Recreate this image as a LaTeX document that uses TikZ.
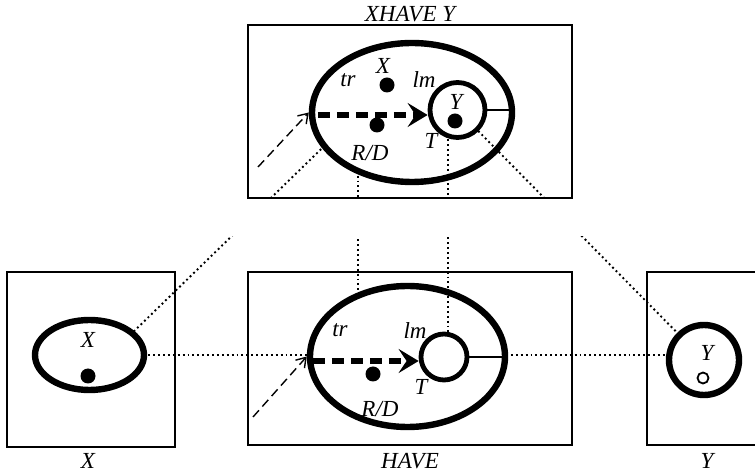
\documentclass[tikz,border=0pt]{standalone}
\usepackage{fontspec}
\setmainfont{Liberation Serif}
\usetikzlibrary{shapes.geometric, arrows.meta}

\tikzset{
  frame/.style={line width=0.9pt},
  ring/.style={ellipse, draw, fill=white, line width=3.2pt, inner sep=0pt},
  core/.style={circle, draw, fill=white, line width=2.4pt, inner sep=0pt},
  spot/.style={circle, fill, inner sep=0pt, minimum size=7.5pt},
  hole/.style={circle, draw, line width=0.9pt, inner sep=0pt, minimum size=5.5pt},
  lbl/.style={font=\fontsize{11.5}{13}\selectfont\itshape, inner sep=0pt},
  link/.style={line width=0.95pt, dash pattern=on 0.95pt off 1.5pt},
  flow/.style={line width=3pt, dash pattern=on 6pt off 3.5pt,
    -{Stealth[length=10pt, width=12pt, inset=4pt]}},
  entry/.style={line width=0.7pt, dash pattern=on 4.5pt off 2.5pt,
    -{Straight Barb[length=4.5pt, width=6pt]}},
}

\begin{document}
\begin{tikzpicture}[x=0.5pt, y=-0.5pt, >=stealth]
  \useasboundingbox (0,0) rectangle (755,475);

  % Centres and link ends
  \coordinate (top) at (412,112.5);
  \coordinate (topin) at (457.5,110);
  \coordinate (have) at (407.5,356.5);
  \coordinate (havein) at (444,357);
  \coordinate (xc) at (89.5,355);
  \coordinate (yc) at (704,360);
  \coordinate (xpt) at (88,376);
  \coordinate (topxpt) at (387,85);
  \coordinate (vl) at (358,112);
  \coordinate (vr) at (448,110);

  % Frames
  \draw[frame] (248,25) rectangle (572,198);
  \draw[frame] (7,272) rectangle (175,447);
  \draw[frame] (248,272) rectangle (572,445);
  \draw[frame] (755,272) -| (647,445) -- (755,445);

  % Links under the outer rings
  \foreach \ya/\yb in {0/199, 237/475} {
    \begin{scope}
      \clip (0,\ya) rectangle (755,\yb);
      \draw[link] (xpt) -- (topxpt);
      \draw[link] (vl) -- (vl |- have);
    \end{scope}
  }
  \draw[link] (xc) -- (xc -| yc);

  % Outer rings
  \node[ring, minimum width=100pt, minimum height=69.5pt] (topring) at (top) {};
  \node[ring, minimum width=97.5pt, minimum height=70.5pt] (havering) at (have) {};
  \node[ring, minimum width=54.5pt, minimum height=35pt] (xring) at (xc) {};

  % Links that show inside the rings
  \foreach \ya/\yb in {0/199, 237/475} {
    \begin{scope}
      \clip (0,\ya) rectangle (755,\yb);
      \draw[link] (topin) -- (yc);
      \draw[link] (vr) -- (vr |- havein);
    \end{scope}
  }

  % Inner circles
  \node[core, line width=3.2pt, minimum size=35pt] (yring) at (yc) {};
  \node[core, minimum size=27.5pt] (topcore) at (topin) {};
  \node[core, minimum size=23pt] (havecore) at (havein) {};
  \draw[line width=1.1pt] (topcore.east) -- (topcore.east -| topring.east);
  \draw[line width=1.1pt] (havecore.east) -- (havecore.east -| havering.east);

  % Dots
  \node[spot] (topxdot) at (topxpt) {};
  \node[spot] (toprd) at (377,125) {};
  \node[spot] (topydot) at (455,121) {};
  \node[spot] (haverd) at (373,374) {};
  \node[spot] (xdot) at (xpt) {};
  \node[hole] (yhole) at (703,378) {};

  % Arrows
  \coordinate (topfrom) at (258,167);
  \coordinate (havefrom) at (253,417);
  \draw[entry] (topfrom) -- (topring.west);
  \draw[entry] (havefrom) -- (havering.west);
  \draw[flow] ([shift={(9,2.5)}]topring.west) -- ([yshift=-2.5pt]topcore.west);
  \draw[flow] ([shift={(6,4.5)}]havering.west) -- ([yshift=-2pt]havecore.west);

  % Labels
  \node[lbl] (title) at (410,14) {XHAVE Y};
  \node[lbl] (toptr) at (348,80) {tr};
  \node[lbl] (topx) at (383,66) {X};
  \node[lbl] (toplm) at (424,80) {lm};
  \node[lbl] (topy) at (456,102) {Y};
  \node[lbl] (topt) at (431,141) {T};
  \node[lbl] (toprdl) at (370,153) {R/D};
  \node[lbl] (havetr) at (340,330) {tr};
  \node[lbl] (havelm) at (415,331) {lm};
  \node[lbl] (havet) at (421,387) {T};
  \node[lbl] (haverdl) at (380,409) {R/D};
  \node[lbl] (xin) at (88,340) {X};
  \node[lbl] (yin) at (707,353) {Y};
  \node[lbl] (xname) at (88,461) {X};
  \node[lbl] (havename) at (410,461) {HAVE};
  \node[lbl] (yname) at (707,461) {Y};
\end{tikzpicture}
\end{document}
